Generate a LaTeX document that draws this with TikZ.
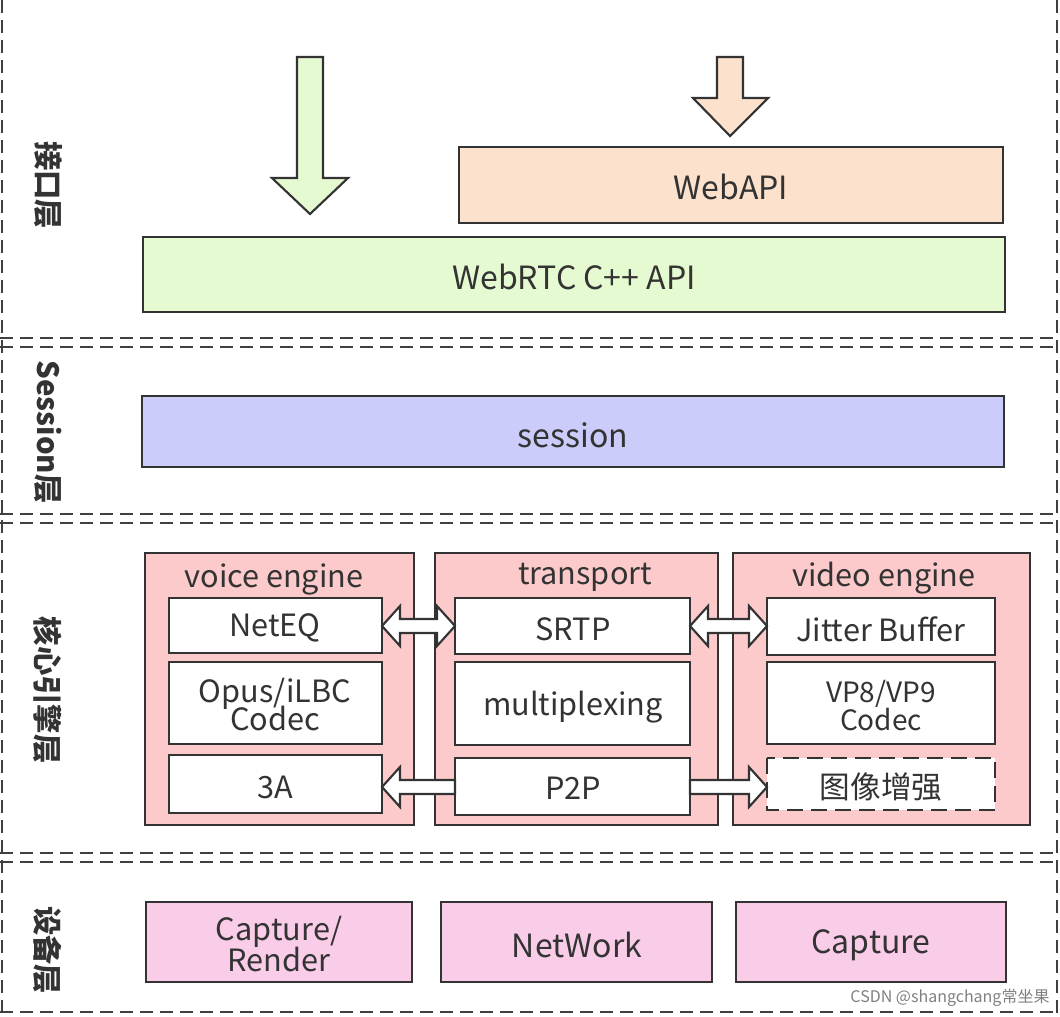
\documentclass[tikz,border=0pt]{standalone}
\usepackage{fontspec}
\setmainfont{Noto Sans CJK SC}
\begin{document}
\begin{tikzpicture}[x=0.75pt,y=-0.75pt,
  line width=1.6pt,
  lbl/.style={font=\fontsize{22}{24}\selectfont\bfseries,rotate=-90,text=black!80},
  sep/.style={draw=black!75,dash pattern=on 10pt off 5pt,line width=2.2pt},
  blk/.style={draw=black!80,line width=1.6pt,line join=miter},
  big/.style={font=\fontsize{24}{28}\selectfont,text=black!80},
  med/.style={font=\fontsize{23}{25}\selectfont,text=black!80,align=center}]
\useasboundingbox (0,0) rectangle (1060,1017);
\definecolor{gfill}{HTML}{E6FAD2}
\definecolor{ofill}{HTML}{FCE2CC}
\definecolor{sfill}{HTML}{CCCCFA}
\definecolor{rfill}{HTML}{FCCACA}
\definecolor{pfill}{HTML}{F9CCE8}
% separators
\foreach \y in {338,347,514,523,853,862,1012}{\draw[sep] (0,\y) -- (1060,\y);}
\draw[sep] (2,0) -- (2,1017);
\draw[sep] (1057,0) -- (1057,1017);
% labels
\node[lbl] (l1) at (48,185) {接口层};
\node[lbl] (l2) at (48,432) {Session层};
\node[lbl] (l3) at (48,690) {核心引擎层};
\node[lbl] (l4) at (48,950) {设备层};
% top arrows
\draw[blk,fill=gfill] (297,57) -- (323,57) -- (323,178) -- (348,178) -- (310,214) -- (272,178) -- (297,178) -- cycle;
\draw[blk,fill=ofill] (717,57) -- (743,57) -- (743,98) -- (768,98) -- (730,136) -- (693,98) -- (717,98) -- cycle;
% boxes
\draw[blk,fill=ofill] (459,147) rectangle (1003,223);
\node[big] (webapi) at (731,187) {WebAPI};
\draw[blk,fill=gfill] (143,237) rectangle (1005,312);
\node[big] (cpp) at (574,277) {WebRTC C++ API};
\draw[blk,fill=sfill] (142,396) rectangle (1004,467);
\node[big] (sess) at (573,435) {session};
% engines
\draw[blk,fill=rfill] (145,553) rectangle (414,825);
\draw[blk,fill=rfill] (435,553) rectangle (718,825);
\draw[blk,fill=rfill] (733,553) rectangle (1030,825);
\node[med] (ve) at (274,579) {voice engine};
\node[med] (tr) at (585,577) {transport};
\node[med] (vd) at (884,578) {video engine};
% inner
\draw[blk,fill=white] (169,598) rectangle (382,653); \node[med] (neteq) at (275,628) {NetEQ};
\draw[blk,fill=white] (169,662) rectangle (382,744); \node[med] (opus) at (275,705) {Opus/iLBC\\[-4pt]Codec};
\draw[blk,fill=white] (169,755) rectangle (382,813); \node[med] (a3) at (275,787) {3A};
\draw[blk,fill=white] (455,598) rectangle (690,654); \node[med] (srtp) at (573,629) {SRTP};
\draw[blk,fill=white] (455,662) rectangle (690,745); \node[med] (mux) at (573,707) {multiplexing};
\draw[blk,fill=white] (455,758) rectangle (690,815); \node[med] (p2p) at (573,788) {P2P};
\draw[blk,fill=white] (767,598) rectangle (995,655); \node[med] (jb) at (881,629) {Jitter Buffer};
\draw[blk,fill=white] (767,662) rectangle (995,744); \node[med,font=\fontsize{21}{24}\selectfont] (vp) at (881,706) {VP8/VP9\\[-3pt]Codec};
\draw[blk,fill=white,dash pattern=on 12pt off 6pt] (767,758) rectangle (995,810); \node[med] (img) at (881,787) {图像增强};
% double arrows
\draw[blk,fill=white] (382,626) -- (400,606) -- (400,619) -- (437,619) -- (437,606) -- (455,626) -- (437,646) -- (437,633) -- (400,633) -- (400,646) -- cycle;
\draw[blk,fill=white] (690,626) -- (708,606) -- (708,619) -- (749,619) -- (749,606) -- (767,626) -- (749,646) -- (749,633) -- (708,633) -- (708,646) -- cycle;
% single arrows
\draw[blk,fill=white] (382,787) -- (400,767) -- (400,780) -- (455,780) -- (455,794) -- (400,794) -- (400,807) -- cycle;
\draw[blk,fill=white] (767,787) -- (749,767) -- (749,780) -- (690,780) -- (690,794) -- (749,794) -- (749,807) -- cycle;
% devices
\draw[blk,fill=pfill] (146,902) rectangle (412,982); \node[med,font=\fontsize{23}{27}\selectfont] (cr) at (279,944) {Capture/\\[-4pt]Render};
\draw[blk,fill=pfill] (441,902) rectangle (712,982); \node[big] (nw) at (577,945) {NetWork};
\draw[blk,fill=pfill] (736,902) rectangle (1006,982); \node[big] (cap) at (871,945) {Capture};
\node[font=\fontsize{12}{14}\selectfont,text=black!50,anchor=east] (wm) at (1055,998) {CSDN @shangchang常坐果};
\end{tikzpicture}
\end{document}
